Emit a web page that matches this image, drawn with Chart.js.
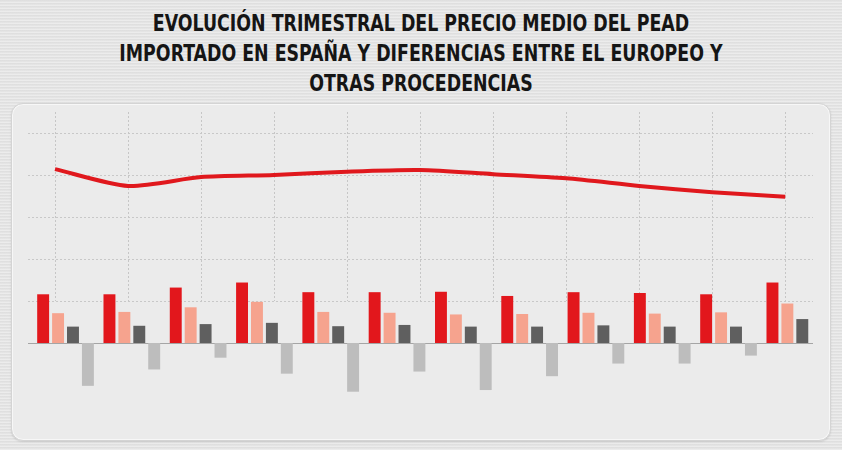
<!DOCTYPE html>
<html>
<head>
<meta charset="utf-8">
<script src="https://cdn.jsdelivr.net/npm/chart.js@4.4.0/dist/chart.umd.min.js"></script>
<style>
html, body { margin: 0; padding: 0; }
body {
  width: 842px; height: 450px; overflow: hidden; position: relative;
  background-color: #e2e2e2;
  background-image: repeating-linear-gradient(0deg, rgba(255,255,255,0.35) 0px, rgba(255,255,255,0.35) 1px, rgba(0,0,0,0.025) 2px, rgba(0,0,0,0) 3px);
}
#title {
  position: absolute; left: 0; top: 8px; width: 842px; text-align: center;
  font-family: "DejaVu Sans Condensed", "DejaVu Sans", sans-serif;
  font-weight: bold; font-size: 23px; line-height: 30px; color: #151515;
  transform: scaleX(0.84); transform-origin: 421px 0;
}
#panel {
  position: absolute; left: 11px; top: 103px; width: 818px; height: 336px;
  border-radius: 12px; background: #ebebeb; border: 1px solid #d4d4d4;
  box-shadow: 0 1px 2px rgba(0,0,0,0.10), inset 0 0 0 1px rgba(255,255,255,0.6);
}
.wrap { position: absolute; left: 0; top: 0; width: 842px; height: 450px; }
</style>
</head>
<body>
<div id="title">EVOLUCIÓN TRIMESTRAL DEL PRECIO MEDIO DEL PEAD<br>IMPORTADO EN ESPAÑA Y DIFERENCIAS ENTRE EL EUROPEO Y<br>OTRAS PROCEDENCIAS</div>
<div id="panel"></div>
<div class="wrap"><canvas id="lineChart"></canvas></div>
<div class="wrap"><canvas id="barChart"></canvas></div>
<script>
// trimestres (no se muestran en la imagen)
const quarters = ['T1', 'T2', 'T3', 'T4', 'T5', 'T6', 'T7', 'T8', 'T9', 'T10', 'T11', 'T12'];
const linePoints = ['P1', 'P2', 'P3', 'P4', 'P5', 'P6', 'P7', 'P8', 'P9', 'P10', 'P11'];

const precioMedio = [41.4, 37.4, 39.5, 40.0, 40.8, 41.2, 40.2, 39.2, 37.4, 35.9, 34.8];
const europeo = [11.6, 11.6, 13.2, 14.4, 12.1, 12.1, 12.2, 11.2, 12.1, 11.9, 11.6, 14.4];
const otras = [7.1, 7.4, 8.5, 9.8, 7.4, 7.2, 6.8, 6.9, 7.2, 7.0, 7.3, 9.4];
const media = [3.9, 4.1, 4.5, 4.8, 4.0, 4.3, 3.9, 3.9, 4.2, 3.9, 3.9, 5.7];
const diferencia = [-10.2, -6.3, -3.5, -7.3, -11.6, -6.8, -11.2, -7.9, -4.9, -4.9, -3.0, 0];
const yTicks = [0, 10, 20, 30, 40, 50];

const toXY = (arr) => arr.map((v, i) => ({ x: i, y: v }));
const padding = { left: 28, right: 29, top: 112, bottom: 44 };

function makeCanvas(sel) {
  const c = document.querySelector(sel);
  c.width = 842;
  c.height = 450;
  return c;
}

// lineas verticales punteadas solo en la parte de arriba
const vGrid = {
  id: 'vGrid',
  beforeDatasetsDraw(chart) {
    const { ctx, chartArea, scales } = chart;
    const yEnd = scales.y.getPixelForValue(yTicks[1]);
    ctx.save();
    ctx.strokeStyle = '#c6c6c6';
    ctx.lineWidth = 1;
    ctx.setLineDash([2, 2]);
    linePoints.forEach((p, i) => {
      const x = Math.round(scales.x.getPixelForValue(i)) + 0.5;
      ctx.beginPath();
      ctx.moveTo(x, chartArea.top);
      ctx.lineTo(x, yEnd);
      ctx.stroke();
    });
    ctx.restore();
  }
};

// grafico de abajo: rejilla + linea del precio medio
let lineChart = new Chart(makeCanvas('#lineChart'), {
  type: 'line',
  data: {
    datasets: [{
      label: 'Precio medio PEAD importado',
      data: toXY(precioMedio),
      borderColor: '#e0181d',
      borderWidth: 4,
      pointRadius: 0,
      tension: 0.25
    }]
  },
  options: {
    responsive: false,
    animation: false,
    layout: { padding: padding },
    plugins: { legend: { display: false }, tooltip: { enabled: false } },
    scales: {
      x: {
        type: 'linear',
        min: -0.37,
        max: 10.38,
        display: true,
        grid: { display: false, drawTicks: false },
        ticks: { display: false },
        border: { display: false }
      },
      y: {
        min: -15,
        max: 55,
        display: true,
        ticks: { display: false },
        grid: {
          drawTicks: false,
          color: (c) => c.tick && c.tick.value === 0 ? '#a5a5a5' : '#c8c8c8',
          lineWidth: 1
        },
        border: { display: false, dash: (c) => c.tick && c.tick.value === 0 ? [] : [2, 2] },
        afterBuildTicks: (s) => { s.ticks = yTicks.map(v => ({ value: v })); }
      }
    }
  },
  plugins: [vGrid]
});

const barDs = (label, values, color) => ({
  label: label,
  data: toXY(values),
  backgroundColor: color,
  barPercentage: 0.8,
  categoryPercentage: 0.9
});

// grafico de arriba: barras
let barChart = new Chart(makeCanvas('#barChart'), {
  type: 'bar',
  data: {
    datasets: [
      barDs('Europeo', europeo, '#e2171c'),
      barDs('Otras procedencias', otras, '#f6a38e'),
      barDs('Media', media, '#5f5f5f'),
      barDs('Diferencia', diferencia, '#bdbdbd')
    ]
  },
  options: {
    responsive: false,
    animation: false,
    layout: { padding: padding },
    plugins: { legend: { display: false }, tooltip: { enabled: false } },
    scales: {
      x: {
        type: 'linear',
        offset: false,
        min: -0.566,
        max: 11.274,
        display: true,
        grid: { display: false, drawTicks: false, offset: false },
        ticks: { display: false },
        border: { display: false },
        afterBuildTicks: (s) => { s.ticks = quarters.map((q, i) => ({ value: i })); }
      },
      y: {
        min: -15,
        max: 55,
        display: true,
        ticks: { display: false },
        grid: { display: false, drawTicks: false },
        border: { display: false }
      }
    }
  }
});
</script>
</body>
</html>
